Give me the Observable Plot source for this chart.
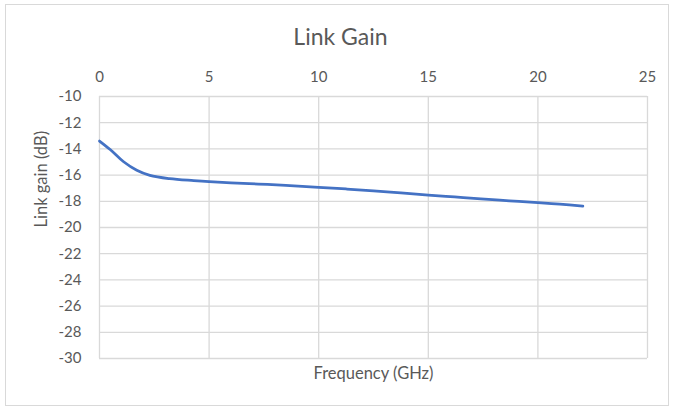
<!DOCTYPE html>
<html>
<head>
<meta charset="utf-8">
<script src="https://cdn.jsdelivr.net/npm/d3@7"></script>
<script src="https://cdn.jsdelivr.net/npm/@observablehq/plot@0.6"></script>
<style>
  html, body { margin: 0; padding: 0; background: #fff; }
  #wrap { position: relative; width: 673px; height: 407px; font-family: Lato, "Open Sans", sans-serif; }
  #title { position: absolute; left: 0; width: 681px; top: 22px; text-align: center; font-size: 23px; color: #595959; }
  #border { position: absolute; left: 5px; top: 4px; width: 662px; height: 400px; border: 1px solid #d9d9d9; pointer-events: none; }
</style>
</head>
<body>
<div id="wrap">
  <div id="border"></div>
  <div id="title">Link Gain</div>
  <div id="chart"></div>
</div>
<script>
const freq = [0, 0.5, 1.1, 1.7, 2.3, 3.2, 4.3, 5.0, 6.0, 7.25, 8.5, 10, 11.25, 12.5, 13.75, 15, 16.2, 17.4, 18.7, 20, 21, 22.05];
const gain = [-13.4, -14.07, -14.98, -15.63, -16.02, -16.27, -16.42, -16.5, -16.59, -16.68, -16.78, -16.93, -17.06, -17.2, -17.36, -17.52, -17.67, -17.82, -17.96, -18.1, -18.22, -18.36];
const xTicks = [0, 5, 10, 15, 20, 25];
const yTicks = [-10, -12, -14, -16, -18, -20, -22, -24, -26, -28, -30];

const data = freq.map((f, i) => ({freq: f, gain: gain[i]}));

const chart = Plot.plot({
  width: 673,
  height: 407,
  marginLeft: 99,
  marginRight: 26,
  marginTop: 96,
  marginBottom: 49,
  style: {fontFamily: 'Lato, "Open Sans", sans-serif', fontSize: "15px", color: "#595959", background: "transparent", overflow: "visible"},
  x: {domain: [0, 25], ticks: xTicks, axis: null},
  y: {domain: [-30, -10], ticks: yTicks, axis: null},
  marks: [
    Plot.ruleX(xTicks, {stroke: "#d9d9d9", strokeWidth: 1.3}),
    Plot.ruleY(yTicks, {stroke: "#d9d9d9", strokeWidth: 1.3}),
    Plot.axisX({anchor: "top", ticks: xTicks, tickSize: 0, tickPadding: 15, label: null, fontSize: 15, tickFormat: d => String(d)}),
    Plot.axisY({anchor: "left", ticks: yTicks, tickSize: 0, tickPadding: 18, label: null, fontSize: 15, tickFormat: d => String(d)}),
    Plot.line(data, {x: "freq", y: "gain", stroke: "#4472c4", strokeWidth: 2.75, curve: "catmull-rom"}),
    Plot.text(["Frequency (GHz)"], {frameAnchor: "bottom", dy: 20, fontSize: 16.5, fill: "#595959"}),
    Plot.text(["Link gain (dB)"], {frameAnchor: "left", dx: -58, rotate: -90, fontSize: 16.5, fill: "#595959"})
  ]
});
document.getElementById("chart").appendChild(chart);
</script>
</body>
</html>
